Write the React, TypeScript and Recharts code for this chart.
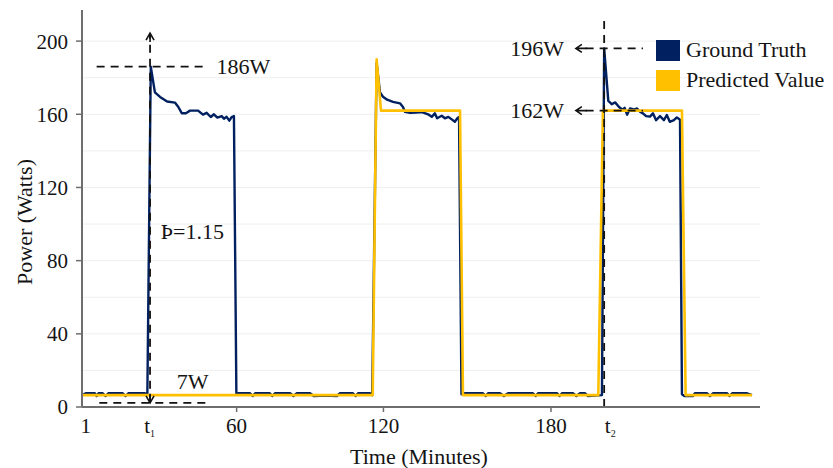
import React from 'react';
import {
  LineChart,
  Line,
  XAxis,
  YAxis,
  CartesianGrid,
  ReferenceLine,
  ReferenceDot,
  Legend,
  Label,
} from 'recharts';

// ---------- data ----------
const gtMinutes = [
  0, 1.5, 5.3, 6.0, 6.8, 8.5, 9.6, 10.8, 16.7, 17.9, 19, 25.8, 26.8,
  28.2, 29.9, 32.0, 34.9, 38.1, 39.5, 40.9, 42.6, 44.3, 47.6, 49.6, 51.1, 52.8, 54.1, 55.5, 57.3, 58.2, 59.3, 60.4, 61.4, 62.3, 63.3,
  64, 68.9, 70, 71, 77, 78, 79.1, 85.3, 86.7, 88.1, 93.5, 95, 100, 104.5, 105.8, 111.1, 112.2, 113.2, 118.1, 119,
  120.8, 122.2, 123.4, 125.1, 127.5, 130.4, 131.6, 132.4, 134.5, 137, 139.4, 141.9, 143.4, 144.7, 145.6, 147.5, 148.8, 150.2, 151.6, 152.9, 153.9, 154.6, 155.6,
  156.5, 164.4, 165.5, 166.5, 171.4, 173, 174.7, 184.9, 186, 187, 194.8, 195.8, 196.8, 201.3, 202.7, 204.2, 206.2, 207.5, 213.2,
  214.1, 215.8, 217.2, 218.6, 220.2, 221.6, 222.5, 223.5, 224.7, 226.3, 227.6, 228.8, 230.0, 231.3, 232.9, 234.1, 235.4, 237.0, 238.6, 239.8, 241.0, 242.7, 243.9, 245.2, 246.0,
  247, 250.5, 251.3, 256.2, 257.5, 258.7, 264.5, 265.5, 266.6, 272.7, 274.7,
];
const gtWatts = [
  6.5, 7.5, 7.5, 6, 7.5, 7.5, 6, 7.5, 7.5, 6, 7.5, 7.5, 7,
  186, 172, 169.5, 167, 166.4, 164, 160.6, 160.6, 162, 162, 159.8, 160.8, 158.5, 160, 158.2, 159, 157.6, 158.6, 156.5, 158.5, 159, 7,
  7.5, 7.5, 6, 7.5, 7.5, 6, 7.5, 7.5, 6, 7.5, 7.5, 6, 6.2, 6, 7.5, 7.5, 6, 7.5, 7.5, 6.5,
  188, 172, 169.6, 168, 166.8, 166, 164, 161.4, 160.8, 161, 161.2, 160, 158.6, 160.5, 157.8, 159.2, 157.8, 158.6, 157.2, 155.9, 157.8, 158.5, 7,
  7.5, 7.5, 6, 7.5, 7.5, 6, 7.5, 7.5, 6, 7.5, 7.5, 6, 7.5, 7.5, 6, 7.5, 7.5, 6, 6.5,
  196, 167.3, 165.5, 166.5, 164, 162.5, 163.5, 159.8, 163.2, 162.6, 163.2, 161.4, 160.5, 159, 158.7, 160.5, 156.8, 159, 156.8, 159.6, 155.9, 156.8, 158.3, 157, 7,
  6, 6, 7.5, 7.5, 6, 7.5, 7.5, 6, 7.5, 7.5, 6.5,
];

const predMinutes = [0, 119.2, 120.8, 122.6, 155.0, 156.2, 211.7, 213.6, 246.0, 247.5, 274.7];
const predWatts = [6.5, 6.5, 190, 162, 162, 6.5, 6.5, 162, 162, 6.5, 6.5];

const xTickValues = [1.5, 27.7, 63.4, 123.6, 192.3, 216.6];
const xTickLabels = ['1', 't1', '60', '120', '180', 't2'];
const xTickMarked = [false, false, true, true, true, false];
const yTickValues = [0, 40, 80, 120, 160, 200];
const gridValues = [20, 40, 60, 80, 100, 120, 140, 160, 180, 200];

const seriesNames = ['Ground Truth', 'Predicted Value'];

const gtData = gtMinutes.map((t, i) => ({ t, watts: gtWatts[i] }));
const predData = predMinutes.map((t, i) => ({ t, watts: predWatts[i] }));

// ---------- style ----------
const FONT = '"Liberation Serif", "Times New Roman", serif';
const NAVY = '#002060';
const GOLD = '#FFC000';
const AXIS = '#6e6e6e';
const TEXT = '#141414';
const DASH = '#111111';
const X_TICK_SIZE = 5;
const X_TICK_MARGIN = 6;

const XTick = (props: any) => {
  const { x, y, payload } = props;
  const i = xTickValues.indexOf(payload.value);
  const label = xTickLabels[i] ?? String(payload.value);
  const marked = xTickMarked[i];
  const isSub = /^t\d$/.test(label);
  return (
    <g>
      {marked && (
        <line
          x1={x}
          x2={x}
          y1={y - X_TICK_MARGIN - X_TICK_SIZE}
          y2={y - X_TICK_MARGIN}
          stroke={AXIS}
          strokeWidth={1.5}
        />
      )}
      <text x={x} y={y} dy="0.71em" textAnchor="middle" fontSize={21} fontFamily={FONT} fill={TEXT}>
        {isSub ? (
          <>
            <tspan>t</tspan>
            <tspan fontSize={10} dy={4}>{label.slice(1)}</tspan>
          </>
        ) : (
          label
        )}
      </text>
    </g>
  );
};

const textShape = (text: string, anchor: 'start' | 'end' | 'middle') => (p: any) => (
  <text
    x={p.cx}
    y={p.cy}
    textAnchor={anchor}
    dominantBaseline="central"
    fontSize={22}
    fontFamily={FONT}
    fill={TEXT}
  >
    {text}
  </text>
);

const arrowShape = (dir: 'up' | 'down' | 'left') => (p: any) => {
  const { cx, cy } = p;
  let d = '';
  if (dir === 'up') d = `M${cx - 4},${cy + 7} L${cx},${cy} L${cx + 4},${cy + 7} M${cx},${cy} L${cx},${cy + 9}`;
  if (dir === 'down') d = `M${cx - 4},${cy - 7} L${cx},${cy} L${cx + 4},${cy - 7} M${cx},${cy} L${cx},${cy - 9}`;
  if (dir === 'left') d = `M${cx + 6},${cy - 4} L${cx},${cy} L${cx + 6},${cy + 4} M${cx},${cy} L${cx + 11},${cy}`;
  return <path d={d} stroke={DASH} strokeWidth={1.6} fill="none" />;
};

const renderLegend = (props: any) => {
  const payload = props.payload || [];
  return (
    <div style={{ fontFamily: FONT }}>
      {payload.map((entry: any, i: number) => (
        <div key={i} style={{ display: 'flex', alignItems: 'center', height: 30 }}>
          <div style={{ width: 24, height: 21, background: entry.color }} />
          <span style={{ marginLeft: 6, fontSize: 22, color: TEXT, lineHeight: '30px', whiteSpace: 'nowrap' }}>
            {entry.value}
          </span>
        </div>
      ))}
    </div>
  );
};

export default function App() {
  const dashProps = { stroke: DASH, strokeWidth: 1.8, strokeDasharray: '8 6', ifOverflow: 'visible' as const };
  return (
    <div style={{ position: 'absolute', left: 0, top: 0, width: 833, height: 468, background: '#fff' }}>
      <LineChart
        width={833}
        height={468}
        margin={{ top: 10, right: 73, bottom: 21, left: 22 }}
      >
        <CartesianGrid vertical={false} horizontalValues={gridValues} stroke="#efefef" strokeWidth={1} />
        <XAxis
          dataKey="t"
          type="number"
          domain={[0, 278]}
          ticks={xTickValues}
          interval={0}
          allowDataOverflow
          height={40}
          tickSize={X_TICK_SIZE}
          tickMargin={X_TICK_MARGIN}
          tickLine={false}
          axisLine={{ stroke: AXIS, strokeWidth: 2 }}
          tick={<XTick />}
        >
          <Label
            content={() => (
              <text x={419} y={456} textAnchor="middle" dominantBaseline="central" fontSize={22} fontFamily={FONT} fill={TEXT}>
                Time (Minutes)
              </text>
            )}
          />
        </XAxis>
        <YAxis
          type="number"
          domain={[0, 217]}
          ticks={yTickValues}
          allowDataOverflow
          width={60}
          tickSize={6}
          tickMargin={8}
          axisLine={{ stroke: AXIS, strokeWidth: 2 }}
          tickLine={{ stroke: AXIS, strokeWidth: 1.5 }}
          tick={{ fontSize: 21, fontFamily: FONT, fill: TEXT }}
        >
          <Label
            content={() => (
              <text
                x={24}
                y={222}
                transform="rotate(-90 24 222)"
                textAnchor="middle"
                dominantBaseline="central"
                fontSize={22}
                fontFamily={FONT}
                fill={TEXT}
              >
                Power (Watts)
              </text>
            )}
          />
        </YAxis>
        <Legend
          layout="horizontal"
          verticalAlign="middle"
          align="center"
          content={renderLegend}
          wrapperStyle={{ left: 656, top: 35, width: 180, height: 60 }}
        />
        <Line
          data={gtData}
          dataKey="watts"
          name={seriesNames[0]}
          type="linear"
          stroke={NAVY}
          strokeWidth={2.4}
          dot={false}
          activeDot={false}
          strokeLinejoin="round"
          isAnimationActive={false}
        />
        <Line
          data={predData}
          dataKey="watts"
          name={seriesNames[1]}
          type="linear"
          stroke={GOLD}
          strokeWidth={2.6}
          dot={false}
          activeDot={false}
          strokeLinejoin="round"
          isAnimationActive={false}
        />

        {/* left annotation: peak 186W, baseline 7W, ratio */}
        <ReferenceLine segment={[{ x: 6.0, y: 186 }, { x: 50.4, y: 186 }]} {...dashProps} />
        <ReferenceLine segment={[{ x: 7.1, y: 2.3 }, { x: 51.1, y: 2.3 }]} {...dashProps} />
        <ReferenceLine segment={[{ x: 27.9, y: 2.3 }, { x: 27.9, y: 204.4 }]} {...dashProps} />
        <ReferenceDot x={27.9} y={204.4} ifOverflow="visible" shape={arrowShape('up')} />
        <ReferenceDot x={27.9} y={2.3} ifOverflow="visible" shape={arrowShape('down')} />
        <ReferenceDot x={55.2} y={186} ifOverflow="visible" shape={textShape('186W', 'start')} />
        <ReferenceDot x={38.8} y={13.8} ifOverflow="visible" shape={textShape('7W', 'start')} />
        <ReferenceDot x={32.3} y={95.8} ifOverflow="visible" shape={textShape('Þ=1.15', 'start')} />

        {/* right annotation: 196W / 162W */}
        <ReferenceLine segment={[{ x: 214.1, y: 0 }, { x: 214.1, y: 214 }]} {...dashProps} />
        <ReferenceLine segment={[{ x: 206.5, y: 196 }, { x: 230, y: 196 }]} {...dashProps} />
        <ReferenceLine segment={[{ x: 206.5, y: 162 }, { x: 230, y: 162 }]} {...dashProps} />
        <ReferenceDot x={202.5} y={196} ifOverflow="visible" shape={arrowShape('left')} />
        <ReferenceDot x={202.5} y={162} ifOverflow="visible" shape={arrowShape('left')} />
        <ReferenceDot x={197.6} y={196} ifOverflow="visible" shape={textShape('196W', 'end')} />
        <ReferenceDot x={197.6} y={162} ifOverflow="visible" shape={textShape('162W', 'end')} />
      </LineChart>
    </div>
  );
}
